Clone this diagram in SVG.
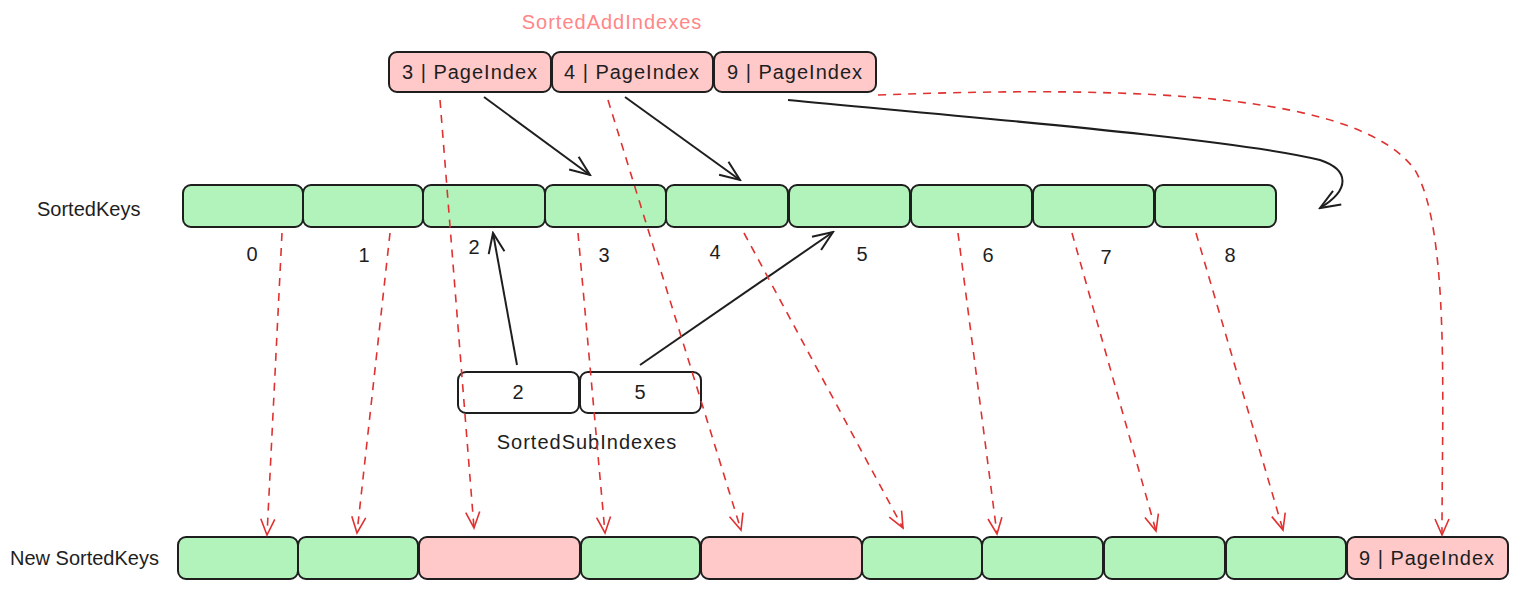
<svg xmlns="http://www.w3.org/2000/svg" width="1519" height="590" viewBox="0 0 1519 590">
<style>
.g{fill:#b2f2bb;stroke:#1e1e1e;stroke-width:2}
.p{fill:#ffc9c9;stroke:#1e1e1e;stroke-width:2}
.w{fill:#ffffff;stroke:#1e1e1e;stroke-width:2}
.t{font-family:"Liberation Sans",Arial,sans-serif;font-size:20px;fill:#1e1e1e;text-anchor:middle;dominant-baseline:central}
.pi{letter-spacing:1px}
.l{font-family:"Liberation Sans",Arial,sans-serif;font-size:20px;fill:#1e1e1e;dominant-baseline:central}
.red{fill:none;stroke:#e03131;stroke-width:1.6;stroke-dasharray:8 7;marker-end:url(#ar)}
.blk{fill:none;stroke:#1e1e1e;stroke-width:2;marker-end:url(#ab)}
</style>
<defs>
<marker id="ar" viewBox="0 0 20 20" refX="18" refY="10" markerWidth="20" markerHeight="20" markerUnits="userSpaceOnUse" orient="auto">
<path d="M2 3 L18 10 L2 17" fill="none" stroke="#e03131" stroke-width="1.6"/>
</marker>
<marker id="ab" viewBox="0 0 24 24" refX="22" refY="12" markerWidth="24" markerHeight="24" markerUnits="userSpaceOnUse" orient="auto">
<path d="M2 4 L22 12 L2 20" fill="none" stroke="#1e1e1e" stroke-width="2"/>
</marker>
</defs>
<rect width="1519" height="590" fill="#ffffff"/>

<g id="label-sortedaddindexes"><text class="t pi" x="612" y="22" style="fill:#ff8787">SortedAddIndexes</text></g>
<g id="add-3"><rect class="p" x="389" y="52" width="162" height="40" rx="8"/><text class="t pi" x="470" y="72">3 | PageIndex</text></g>
<g id="add-4"><rect class="p" x="552" y="52" width="161" height="40" rx="8"/><text class="t pi" x="632" y="72">4 | PageIndex</text></g>
<g id="add-9"><rect class="p" x="714" y="52" width="162" height="40" rx="8"/><text class="t pi" x="795" y="72">9 | PageIndex</text></g>

<g id="label-sortedkeys"><text class="l" x="37" y="209">SortedKeys</text></g>
<g id="key-0"><rect class="g" x="183" y="185" width="120" height="42" rx="8"/></g>
<g id="key-1"><rect class="g" x="303" y="185" width="120" height="42" rx="8"/></g>
<g id="key-2"><rect class="g" x="423" y="185" width="122" height="42" rx="8"/></g>
<g id="key-3"><rect class="g" x="545" y="185" width="121" height="42" rx="8"/></g>
<g id="key-4"><rect class="g" x="666" y="185" width="122" height="42" rx="8"/></g>
<g id="key-5"><rect class="g" x="789" y="185" width="121" height="42" rx="8"/></g>
<g id="key-6"><rect class="g" x="911" y="185" width="121" height="42" rx="8"/></g>
<g id="key-7"><rect class="g" x="1033" y="185" width="121" height="42" rx="8"/></g>
<g id="key-8"><rect class="g" x="1155" y="185" width="121" height="42" rx="8"/></g>

<g id="idx-labels">
<text class="t" x="252" y="254">0</text>
<text class="t" x="364" y="255">1</text>
<text class="t" x="474" y="247">2</text>
<text class="t" x="604" y="255">3</text>
<text class="t" x="715" y="252">4</text>
<text class="t" x="862" y="254">5</text>
<text class="t" x="988" y="255">6</text>
<text class="t" x="1106" y="257">7</text>
<text class="t" x="1230" y="255">8</text>
</g>

<g id="sub-2"><rect class="w" x="458" y="372" width="121" height="41" rx="8"/><text class="t" x="518" y="392">2</text></g>
<g id="sub-5"><rect class="w" x="580" y="372" width="121" height="41" rx="8"/><text class="t" x="640" y="392">5</text></g>
<g id="label-sortedsubindexes"><text class="t pi" x="587" y="442">SortedSubIndexes</text></g>

<g id="label-newsortedkeys"><text class="l" x="10" y="558">New SortedKeys</text></g>
<g id="new-0"><rect class="g" x="178" y="537" width="120" height="42" rx="8"/></g>
<g id="new-1"><rect class="g" x="298" y="537" width="120" height="42" rx="8"/></g>
<g id="new-2"><rect class="p" x="419" y="537" width="161" height="42" rx="8"/></g>
<g id="new-3"><rect class="g" x="581" y="537" width="119" height="42" rx="8"/></g>
<g id="new-4"><rect class="p" x="701" y="537" width="161" height="42" rx="8"/></g>
<g id="new-5"><rect class="g" x="862" y="537" width="120" height="42" rx="8"/></g>
<g id="new-6"><rect class="g" x="982" y="537" width="121" height="42" rx="8"/></g>
<g id="new-7"><rect class="g" x="1104" y="537" width="121" height="42" rx="8"/></g>
<g id="new-8"><rect class="g" x="1226" y="537" width="120" height="42" rx="8"/></g>
<g id="new-9"><rect class="p" x="1347" y="537" width="161" height="42" rx="8"/><text class="t pi" x="1427" y="558">9 | PageIndex</text></g>

<g id="connectors">
<path class="blk" d="M484 97 L590 175"/>
<path class="blk" d="M625 97 L740 180"/>
<path class="blk" d="M788 100 C1000 120 1240 140 1320 160 C1350 170 1350 190 1320 208"/>
<path class="blk" d="M517 365 L493 233"/>
<path class="blk" d="M640 365 L833 232"/>

<path class="red" d="M282 233 L267 535"/>
<path class="red" d="M390 233 L357 533"/>
<path class="red" d="M440 100 L474 528"/>
<path class="red" d="M578 233 L605 533"/>
<path class="red" d="M608 100 L741 530"/>
<path class="red" d="M744 233 L903 528"/>
<path class="red" d="M958 233 L997 534"/>
<path class="red" d="M1072 233 L1156 531"/>
<path class="red" d="M1196 233 L1283 530"/>
<path class="red" d="M878 95 C1150 85 1360 95 1415 170 C1450 230 1442 400 1442 535"/>
</g>
</svg>
